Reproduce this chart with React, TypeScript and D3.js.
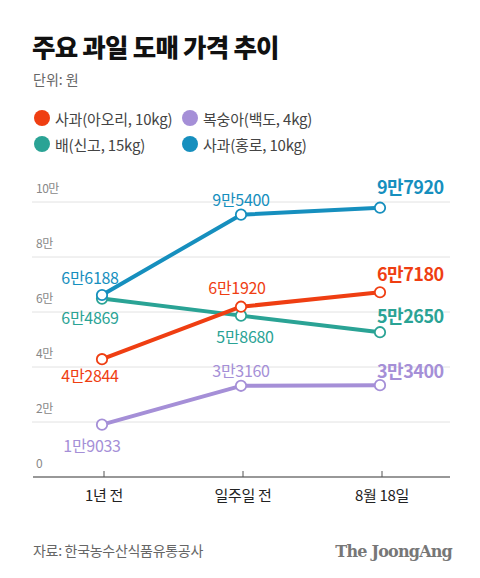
import React from "react";
import * as d3 from "d3";

const categories = ["1년 전", "일주일 전", "8월 18일"];
const seriesNames = ["사과(아오리, 10kg)", "복숭아(백도, 4kg)", "배(신고, 15kg)", "사과(홍로, 10kg)"];
const appleAori = [42844, 61920, 67180];
const peach = [19033, 33160, 33400];
const pear = [64869, 58680, 52650];
const appleHongro = [66188, 95400, 97920];
const valueLabels = [
  ["4만2844", "6만1920", "6만7180"],
  ["1만9033", "3만3160", "3만3400"],
  ["6만4869", "5만8680", "5만2650"],
  ["6만6188", "9만5400", "9만7920"],
];
const yTicks = [0, 20000, 40000, 60000, 80000, 100000];
const yTickLabels = ["0", "2만", "4만", "6만", "8만", "10만"];

const colors = ["#ef3e12", "#a58fd7", "#2aa395", "#168fbe"];
// label placement: [dx, dy] per point
const placements = [
  [[-12, 16], [-4, -20], [-3, -19]],
  [[-10, 20], [0, -16], [-3, -15]],
  [[-12, 18], [4, 20], [-3, -17]],
  [[-12, -18], [0, -16], [-3, -22]],
];

const FONT = "'Noto Sans CJK KR', 'Noto Sans', sans-serif";

export default function App() {
  const W = 480, H = 578;
  const series = [appleAori, peach, pear, appleHongro];
  const x = d3.scalePoint<string>().domain(categories).range([102, 380]);
  const y = d3.scaleLinear().domain([0, 100000]).range([477, 202]);
  const line = d3.line<number>().x((_, i) => x(categories[i])!).y((d) => y(d));
  const drawOrder = [2, 1, 0, 3];
  const legendPos = [[42, 118], [190, 118], [42, 144], [190, 144]];
  return (
    <svg width={W} height={H} style={{ position: "absolute", left: 0, top: 0, background: "#fff" }} fontFamily={FONT}>
      <rect width={W} height={H} fill="#fff" />
      <text x={32} y={57} fontSize={25.5} fontWeight={900} fill="#111" letterSpacing={-0.8}>주요 과일 도매 가격 추이</text>
      <text x={33} y={85} fontSize={14} fill="#666">단위: 원</text>
      {seriesNames.map((n, i) => (
        <g key={n}>
          <circle cx={legendPos[i][0]} cy={legendPos[i][1]} r={8} fill={colors[i]} />
          <text x={legendPos[i][0] + 13} y={legendPos[i][1]} dominantBaseline="central" fontSize={15} fill="#444" letterSpacing={-0.2}>{n}</text>
        </g>
      ))}
      {yTicks.map((t, i) => (
        <g key={t}>
          {t !== 0 && <line x1={32} x2={450} y1={y(t)} y2={y(t)} stroke="#e2e2e2" strokeWidth={1} />}
          <text x={36} y={y(t) - 9} fontSize={12} fill="#888" letterSpacing={-0.5}>{yTickLabels[i]}</text>
        </g>
      ))}
      <line x1={33} x2={450} y1={y(0)} y2={y(0)} stroke="#333" strokeWidth={1.2} />
      {categories.map((c) => (
        <g key={c}>
          <line x1={x(c)! + 2} x2={x(c)! + 2} y1={y(0) - 6} y2={y(0)} stroke="#555" strokeWidth={1} />
          <text x={x(c)! + 2} y={494} textAnchor="middle" dominantBaseline="central" fontSize={15} fill="#222" letterSpacing={-0.3}>{c}</text>
        </g>
      ))}
      {drawOrder.map((si) => (
        <path key={si} d={line(series[si])!} fill="none" stroke={colors[si]} strokeWidth={4} strokeLinejoin="round" />
      ))}
      {drawOrder.map((si) =>
        series[si].map((v, i) => (
          <circle key={si + "-" + i} cx={x(categories[i])!} cy={y(v)} r={5.2} fill="#fff" stroke={colors[si]} strokeWidth={1.8} />
        ))
      )}
      {series.map((s, si) =>
        s.map((v, i) => {
          const [dx, dy] = placements[si][i];
          const last = i === s.length - 1;
          return (
            <text
              key={"l" + si + "-" + i}
              x={x(categories[i])! + dx}
              y={y(v) + dy}
              textAnchor={last ? "start" : "middle"}
              dominantBaseline="central"
              fontSize={last ? 18 : 16}
              fontWeight={last ? 700 : 400}
              fill={colors[si]}
              letterSpacing={last ? -0.5 : -0.3}
            >
              {valueLabels[si][i]}
            </text>
          );
        })
      )}
      <text x={33} y={550} dominantBaseline="central" fontSize={14} fill="#666" letterSpacing={-0.3}>자료: 한국농수산식품유통공사</text>
      <text x={452} y={551} textAnchor="end" dominantBaseline="central" fontSize={16} fontWeight={700} fill="#777" fontFamily="'DejaVu Serif', 'Liberation Serif', serif" letterSpacing={-0.8}>The JoongAng</text>
    </svg>
  );
}
